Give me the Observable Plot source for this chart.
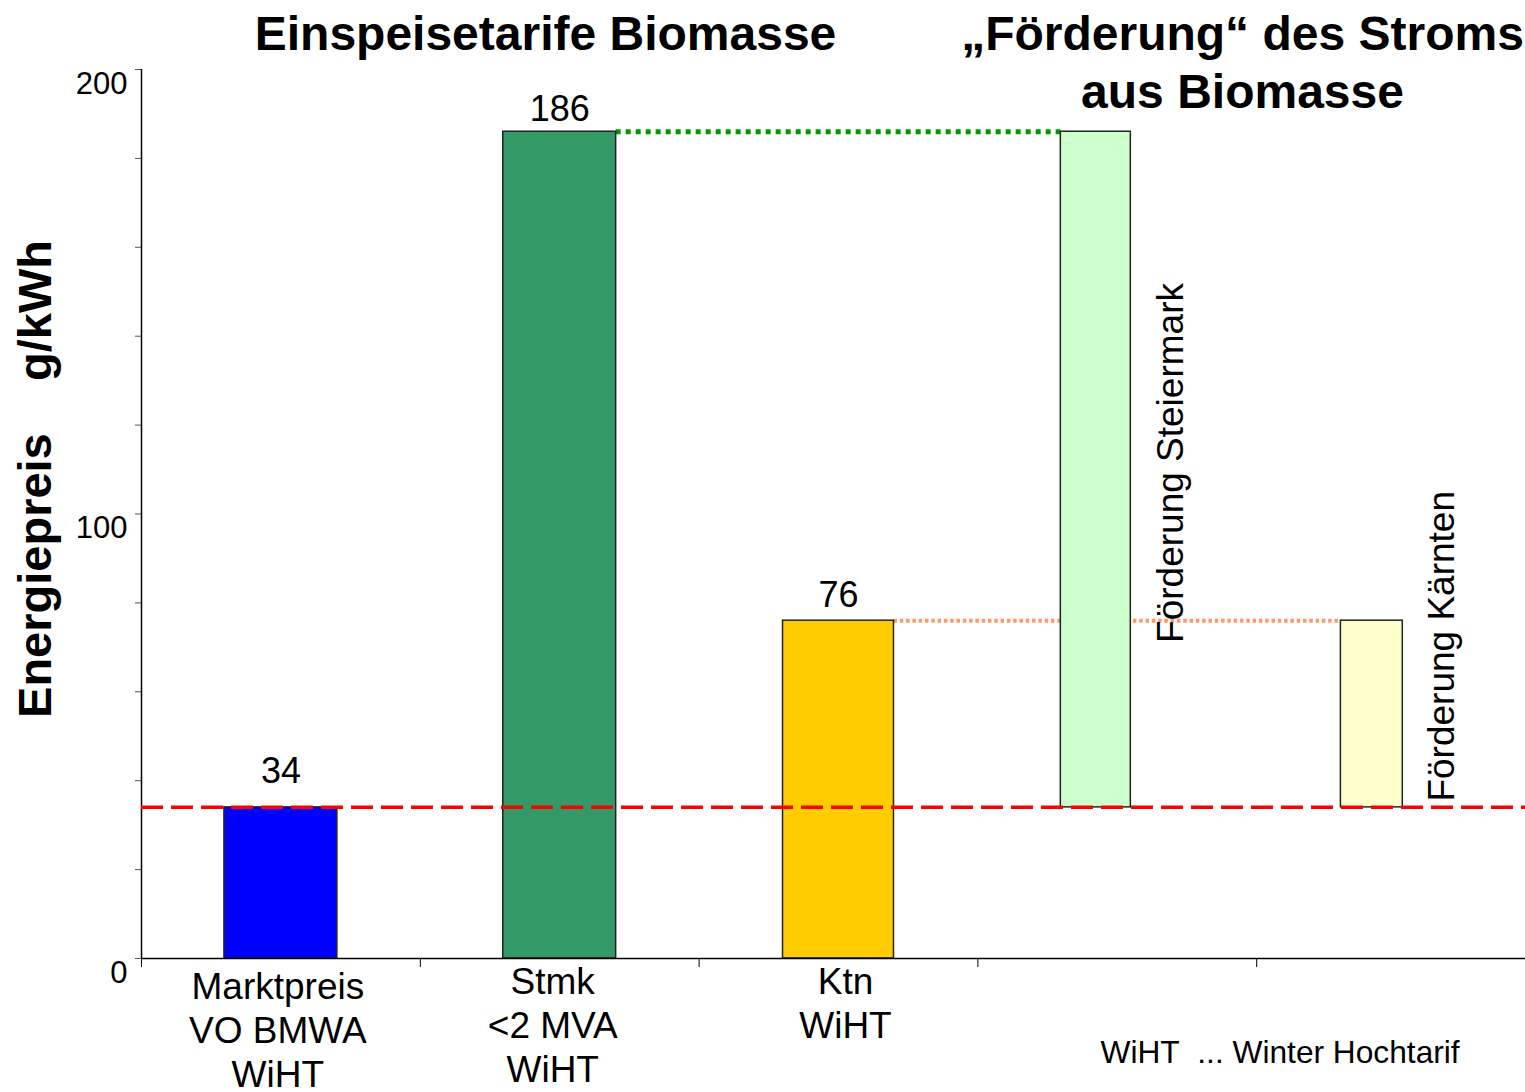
<!DOCTYPE html>
<html><head><meta charset="utf-8">
<script src="https://cdn.jsdelivr.net/npm/d3@7"></script>
<script src="https://cdn.jsdelivr.net/npm/@observablehq/plot@0.6"></script>
<style>
body{margin:0;background:#fff;}
#wrap{width:1525px;height:1092px;}
</style></head><body><div id="wrap"></div>
<script>
// ---- data ----
const categories = ["Marktpreis\nVO BMWA\nWiHT", "Stmk\n<2 MVA\nWiHT", "Ktn\nWiHT", "Förderung Steiermark", "Förderung Kärnten"];
const tickLabels = ["Marktpreis\nVO BMWA\nWiHT", "Stmk\n<2 MVA\nWiHT", "Ktn\nWiHT"];
const barTop  = [34, 186, 76, 186, 76];
const barBase = [0, 0, 0, 34, 34];
const valueLabels = ["34", "186", "76"];
const marketPrice = 34;
const yLabelTicks = [0, 100, 200];
const yMinorTicks = [0, 20, 40, 60, 80, 100, 120, 140, 160, 180, 200];
const footnote = "WiHT\u00a0\u00a0... Winter Hochtarif";
const title1 = "Einspeisetarife Biomasse";
const title2 = "\u201EFörderung\u201C des Stroms\naus Biomasse";
const yTitle = "Energiepreis\u00a0\u00a0\u00a0\u00a0g/kWh";

// ---- style / layout ----
const barColors = ["#0000ff", "#339966", "#ffcc00", "#ccffcc", "#ffffcc"];
const barWidth = [0.405, 0.405, 0.398, 0.251, 0.222];
const barShift = [0, 0, 0, -0.077, -0.087];
const labelShift = [-0.011, -0.025, 0.025];
const valueDy = [-24, -11, -14];
const left = i => i + barShift[i] - barWidth[i] / 2;
const right = i => i + barShift[i] + barWidth[i] / 2;
const idx = categories.map((_, i) => i);
const font = "Liberation Sans, Arial, Helvetica, sans-serif";

const plot = Plot.plot({
  width: 1525,
  height: 1092,
  marginLeft: 141,
  marginRight: 0,
  marginTop: 69,
  marginBottom: 134,
  style: {fontFamily: font, color: "#000", background: "#fff"},
  x: {domain: [-0.5, 4.5], range: [141, 1535], label: null},
  y: {domain: [0, 200], label: null},
  color: {type: "identity"},
  marks: [
    // y axis
    Plot.axisY({ticks: yMinorTicks, tickSize: 6, tickFormat: () => "", stroke: "#555"}),
    Plot.axisY({ticks: yLabelTicks, tickSize: 0, tickPadding: 14, fontSize: 31, lineAnchor: "top", dy: 2}),
    Plot.ruleX([-0.5], {y1: 0, y2: 200, stroke: "#000", strokeWidth: 1.5}),
    // x axis
    Plot.axisX({ticks: [-0.5, 0.5, 1.5, 2.5, 3.5], tickSize: 9, tickFormat: () => "", stroke: "#000"}),
    Plot.text([0], {x: i => i + labelShift[i], text: i => tickLabels[i], frameAnchor: "bottom",
      dy: 9, fontSize: 37, lineHeight: 1.19, lineAnchor: "top", fill: "#000"}),
    Plot.text([1, 2], {x: i => i + labelShift[i], text: i => tickLabels[i], frameAnchor: "bottom",
      dy: 4, fontSize: 37, lineHeight: 1.19, lineAnchor: "top", fill: "#000"}),
    // connector lines (behind bars)
    Plot.ruleY([barTop[2]], {x1: right(2), x2: left(4), stroke: "#ff9966", strokeWidth: 4, strokeDasharray: "3.5,2.8"}),
    Plot.ruleY([barTop[1]], {x1: right(1), x2: left(3), stroke: "#009900", strokeWidth: 5, strokeDasharray: "5,5"}),
    // bars
    Plot.rectY(idx, {x1: left, x2: right, y1: i => barBase[i], y2: i => barTop[i],
      fill: i => barColors[i], stroke: "#222", strokeWidth: 1.5}),
    Plot.ruleY([0], {stroke: "#000", strokeWidth: 1.5}),
    // market price reference
    Plot.ruleY([marketPrice], {stroke: "#ff0000", strokeWidth: 3.5, strokeDasharray: "22,8"}),
    // value labels
    ...[0, 1, 2].map(k => Plot.text([k], {x: i => i, y: i => barTop[i], text: i => valueLabels[i],
      fontSize: 36, lineAnchor: "bottom", dy: valueDy[k], fill: "#000"})),
    // rotated annotations
    Plot.text([3], {x: right, y: 71, text: i => categories[i], rotate: -90, textAnchor: "start",
      lineAnchor: "bottom", dx: 52, fontSize: 37, fill: "#000"}),
    Plot.text([4], {x: right, y: 35.3, text: i => categories[i], rotate: -90, textAnchor: "start",
      lineAnchor: "bottom", dx: 51, fontSize: 37, fill: "#000"}),
    // axis title
    Plot.text([yTitle], {frameAnchor: "left", rotate: -90, dx: -106, dy: -35, fontSize: 47,
      fontWeight: "bold", lineAnchor: "middle", textAnchor: "middle", fill: "#000"}),
    // titles
    Plot.text([title1], {frameAnchor: "top-left", dx: 404, dy: -20, fontSize: 48, fontWeight: "bold",
      textAnchor: "middle", lineAnchor: "bottom", fill: "#000"}),
    Plot.text([title2], {frameAnchor: "top-left", dx: 1101, dy: 38, fontSize: 48, fontWeight: "bold",
      textAnchor: "middle", lineAnchor: "bottom", lineHeight: 1.2, fill: "#000"}),
    // footnote
    Plot.text([footnote], {frameAnchor: "bottom-left", dx: 959, dy: 104, fontSize: 31.7,
      textAnchor: "start", lineAnchor: "bottom", fill: "#000"})
  ]
});
document.getElementById("wrap").append(plot);
</script></body></html>
